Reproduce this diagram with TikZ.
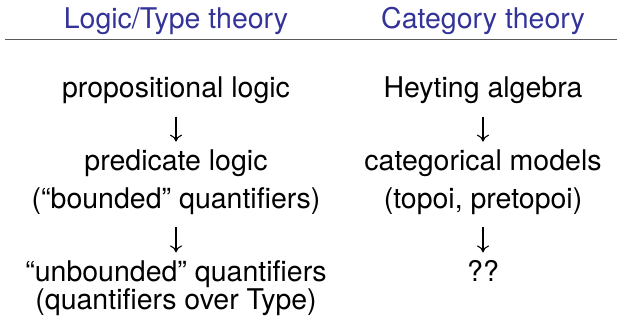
\documentclass[tikz,border=0pt]{standalone}
\usepackage{fontspec}
\setmainfont{TeX Gyre Heros}
\usepackage{xcolor}
\usepackage{tikz}
\usetikzlibrary{positioning,arrows.meta}

\definecolor{structblue}{RGB}{51,51,153}

\begin{document}
\begin{tikzpicture}[x=1pt, y=1pt,
  node distance=0pt,
  txt/.style={font=\fontsize{28.5}{34}\selectfont, inner sep=0pt, text height=20.5pt, text depth=6pt},
  head/.style={txt, text=structblue},
  hrule/.style={draw=black!65, line width=1.3pt},
  arr/.style={-{Computer Modern Rightarrow[length=7pt, width=12pt]}, line width=1.1pt, shorten <=13pt, shorten >=8.5pt}]
\useasboundingbox (0,0) rectangle (617,-324);
% column heads
\node[head] (hdL) at (176,-20.75) {Logic/Type theory};
\node[head] (hdR) at (483,-20.75) {Category theory};
\draw[hrule] (5,-39.5) -- (617,-39.5);
% logic side
\node[txt, below=42.5pt of hdL] (prop) {propositional logic};
\node[txt, below=46.5pt of prop] (pred) {predicate logic};
\node[txt, below=10.5pt of pred] (bnd) {(“bounded” quantifiers)};
\node[txt, below=46.5pt of bnd] (unbnd) {“unbounded” quantifiers};
\node[txt, below=0.5pt of unbnd] (overty) {(quantifiers over Type)};
% category side
\node[txt, below=42.5pt of hdR] (heyt) {Heyting algebra};
\node[txt, below=46.5pt of heyt] (catm) {categorical models};
\node[txt, below=10.5pt of catm] (topoi) {(topoi, pretopoi)};
\node[txt, below=46.5pt of topoi] (qq) {??};
\draw[arr] (prop) -- (pred);
\draw[arr] (bnd) -- (unbnd);
\draw[arr] (heyt) -- (catm);
\draw[arr] (topoi) -- (qq);
\end{tikzpicture}
\end{document}
